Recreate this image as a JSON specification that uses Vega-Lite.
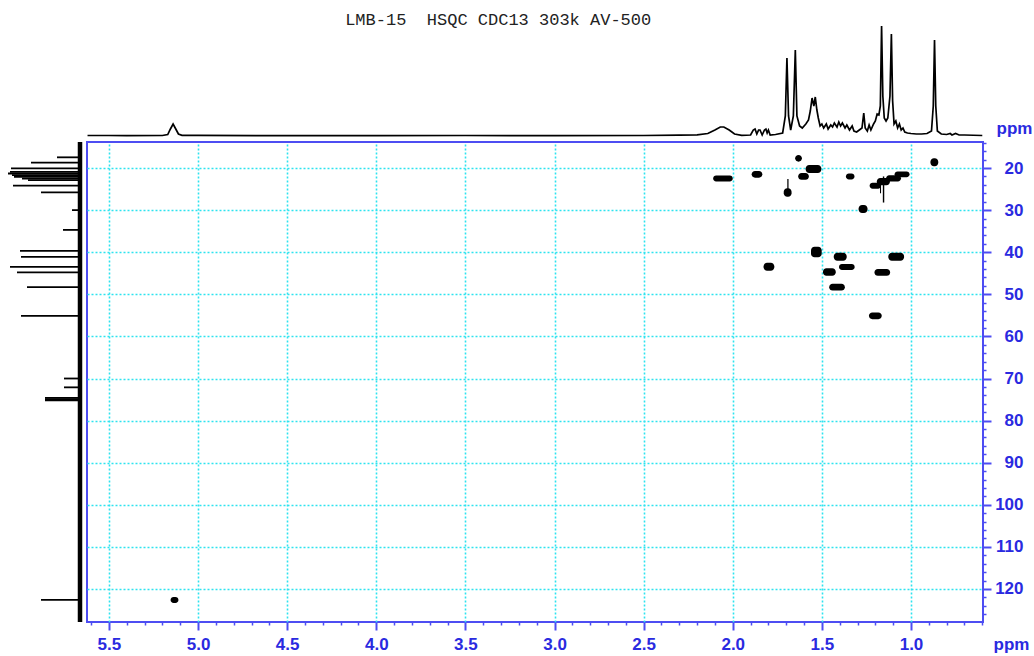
{
  "$schema": "https://vega.github.io/schema/vega-lite/v6.json",
  "background": "white",
  "padding": {"left": 7, "top": 11, "right": 0, "bottom": 0},
  "config": {"view": {"stroke": null}},
  "columns": 2,
  "spacing": {"row": 4, "column": 4},
  "bounds": "flush",
  "align": "each",
  "datasets": {
    "proton": [
      {"ppm": 5.62, "intensity": 0.5}, {"ppm": 5.5, "intensity": 0.5}, {"ppm": 5.4, "intensity": 0.3},
      {"ppm": 5.2, "intensity": 0.5}, {"ppm": 5.17, "intensity": 1.5}, {"ppm": 5.155, "intensity": 7},
      {"ppm": 5.14, "intensity": 12}, {"ppm": 5.128, "intensity": 8}, {"ppm": 5.11, "intensity": 2},
      {"ppm": 5.09, "intensity": 0.6}, {"ppm": 5.0, "intensity": 0.6}, {"ppm": 4.5, "intensity": 0.4},
      {"ppm": 4.0, "intensity": 0.4}, {"ppm": 3.5, "intensity": 0.5}, {"ppm": 3.0, "intensity": 0.4},
      {"ppm": 2.5, "intensity": 0.5}, {"ppm": 2.3, "intensity": 0.8}, {"ppm": 2.2, "intensity": 1.2},
      {"ppm": 2.14, "intensity": 2.5}, {"ppm": 2.1, "intensity": 6}, {"ppm": 2.07, "intensity": 9},
      {"ppm": 2.05, "intensity": 9}, {"ppm": 2.02, "intensity": 6}, {"ppm": 1.99, "intensity": 2},
      {"ppm": 1.95, "intensity": 0.6}, {"ppm": 1.9, "intensity": 1}, {"ppm": 1.885, "intensity": 6},
      {"ppm": 1.875, "intensity": 7}, {"ppm": 1.865, "intensity": 2}, {"ppm": 1.855, "intensity": 6},
      {"ppm": 1.847, "intensity": 6}, {"ppm": 1.835, "intensity": 1}, {"ppm": 1.822, "intensity": 6},
      {"ppm": 1.814, "intensity": 7}, {"ppm": 1.807, "intensity": 3}, {"ppm": 1.8, "intensity": 6},
      {"ppm": 1.79, "intensity": 1}, {"ppm": 1.76, "intensity": 1.5}, {"ppm": 1.72, "intensity": 3},
      {"ppm": 1.705, "intensity": 20}, {"ppm": 1.696, "intensity": 78}, {"ppm": 1.687, "intensity": 20},
      {"ppm": 1.675, "intensity": 6}, {"ppm": 1.66, "intensity": 20}, {"ppm": 1.649, "intensity": 86},
      {"ppm": 1.64, "intensity": 20}, {"ppm": 1.625, "intensity": 10}, {"ppm": 1.61, "intensity": 8},
      {"ppm": 1.59, "intensity": 12}, {"ppm": 1.575, "intensity": 16}, {"ppm": 1.565, "intensity": 25},
      {"ppm": 1.555, "intensity": 38}, {"ppm": 1.545, "intensity": 30}, {"ppm": 1.537, "intensity": 39},
      {"ppm": 1.528, "intensity": 26}, {"ppm": 1.52, "intensity": 18}, {"ppm": 1.51, "intensity": 10},
      {"ppm": 1.5, "intensity": 12}, {"ppm": 1.49, "intensity": 8}, {"ppm": 1.475, "intensity": 12},
      {"ppm": 1.465, "intensity": 7}, {"ppm": 1.45, "intensity": 11}, {"ppm": 1.44, "intensity": 9},
      {"ppm": 1.43, "intensity": 13}, {"ppm": 1.415, "intensity": 9}, {"ppm": 1.405, "intensity": 14},
      {"ppm": 1.395, "intensity": 10}, {"ppm": 1.385, "intensity": 13}, {"ppm": 1.37, "intensity": 8},
      {"ppm": 1.36, "intensity": 11}, {"ppm": 1.345, "intensity": 6}, {"ppm": 1.33, "intensity": 10},
      {"ppm": 1.32, "intensity": 5}, {"ppm": 1.305, "intensity": 4}, {"ppm": 1.29, "intensity": 6},
      {"ppm": 1.275, "intensity": 8}, {"ppm": 1.265, "intensity": 23}, {"ppm": 1.257, "intensity": 8},
      {"ppm": 1.245, "intensity": 5}, {"ppm": 1.235, "intensity": 11}, {"ppm": 1.225, "intensity": 6},
      {"ppm": 1.21, "intensity": 12}, {"ppm": 1.2, "intensity": 15}, {"ppm": 1.19, "intensity": 22},
      {"ppm": 1.18, "intensity": 21}, {"ppm": 1.172, "intensity": 30}, {"ppm": 1.165, "intensity": 110},
      {"ppm": 1.158, "intensity": 40}, {"ppm": 1.15, "intensity": 18}, {"ppm": 1.14, "intensity": 15},
      {"ppm": 1.13, "intensity": 18}, {"ppm": 1.118, "intensity": 40}, {"ppm": 1.11, "intensity": 102},
      {"ppm": 1.103, "intensity": 35}, {"ppm": 1.095, "intensity": 12}, {"ppm": 1.085, "intensity": 15},
      {"ppm": 1.075, "intensity": 8}, {"ppm": 1.065, "intensity": 12}, {"ppm": 1.055, "intensity": 6},
      {"ppm": 1.045, "intensity": 8}, {"ppm": 1.035, "intensity": 4}, {"ppm": 1.02, "intensity": 3},
      {"ppm": 1.0, "intensity": 2.5}, {"ppm": 0.97, "intensity": 2}, {"ppm": 0.94, "intensity": 2},
      {"ppm": 0.91, "intensity": 2.5}, {"ppm": 0.885, "intensity": 5}, {"ppm": 0.875, "intensity": 30},
      {"ppm": 0.868, "intensity": 96}, {"ppm": 0.861, "intensity": 30}, {"ppm": 0.852, "intensity": 5},
      {"ppm": 0.83, "intensity": 2}, {"ppm": 0.8, "intensity": 1.5}, {"ppm": 0.78, "intensity": 2.5},
      {"ppm": 0.77, "intensity": 1}, {"ppm": 0.75, "intensity": 2.5}, {"ppm": 0.73, "intensity": 1},
      {"ppm": 0.7, "intensity": 1}, {"ppm": 0.6, "intensity": 0.5}
    ],
    "carbon": [
      {"ppm": 17.46, "intensity": 23}, {"ppm": 18.74, "intensity": 49}, {"ppm": 20.07, "intensity": 69},
      {"ppm": 20.9, "intensity": 70}, {"ppm": 21.3, "intensity": 72}, {"ppm": 21.7, "intensity": 68},
      {"ppm": 22.1, "intensity": 66}, {"ppm": 22.5, "intensity": 58}, {"ppm": 22.9, "intensity": 52},
      {"ppm": 24.2, "intensity": 67}, {"ppm": 25.8, "intensity": 39}, {"ppm": 30.0, "intensity": 8},
      {"ppm": 34.7, "intensity": 17}, {"ppm": 39.7, "intensity": 60}, {"ppm": 41.1, "intensity": 59},
      {"ppm": 43.5, "intensity": 70}, {"ppm": 44.8, "intensity": 63}, {"ppm": 48.3, "intensity": 53},
      {"ppm": 55.1, "intensity": 59}, {"ppm": 70.0, "intensity": 16}, {"ppm": 72.1, "intensity": 16},
      {"ppm": 74.6, "intensity": 35}, {"ppm": 74.9, "intensity": 35}, {"ppm": 75.2, "intensity": 35},
      {"ppm": 122.6, "intensity": 39}
    ],
    "peaks": [
      {"h1": 1.612, "h2": 1.65, "c1": 16.9, "c2": 18.5},
      {"h1": 1.503, "h2": 1.591, "c1": 19.3, "c2": 21.2},
      {"h1": 1.834, "h2": 1.894, "c1": 20.7, "c2": 22.3},
      {"h1": 2.0, "h2": 2.11, "c1": 21.8, "c2": 23.2},
      {"h1": 1.573, "h2": 1.633, "c1": 21.2, "c2": 22.8},
      {"h1": 1.67, "h2": 1.714, "c1": 24.8, "c2": 26.8},
      {"h1": 1.317, "h2": 1.365, "c1": 21.3, "c2": 22.7},
      {"h1": 1.008, "h2": 1.092, "c1": 20.8, "c2": 22.2},
      {"h1": 1.056, "h2": 1.14, "c1": 21.7, "c2": 23.2},
      {"h1": 1.118, "h2": 1.192, "c1": 22.4, "c2": 24.1},
      {"h1": 1.168, "h2": 1.232, "c1": 23.5, "c2": 24.9},
      {"h1": 1.244, "h2": 1.294, "c1": 28.8, "c2": 30.7},
      {"h1": 1.501, "h2": 1.561, "c1": 38.7, "c2": 41.2},
      {"h1": 1.361, "h2": 1.433, "c1": 40.1, "c2": 42.0},
      {"h1": 1.039, "h2": 1.127, "c1": 40.1, "c2": 42.0},
      {"h1": 1.767, "h2": 1.827, "c1": 42.5, "c2": 44.4},
      {"h1": 1.316, "h2": 1.404, "c1": 42.8, "c2": 44.2},
      {"h1": 1.422, "h2": 1.494, "c1": 43.8, "c2": 45.6},
      {"h1": 1.117, "h2": 1.205, "c1": 44.0, "c2": 45.6},
      {"h1": 1.371, "h2": 1.459, "c1": 47.5, "c2": 49.1},
      {"h1": 1.164, "h2": 1.236, "c1": 54.3, "c2": 55.9},
      {"h1": 0.847, "h2": 0.891, "c1": 17.7, "c2": 19.6},
      {"h1": 5.11, "h2": 5.154, "c1": 121.9, "c2": 123.3}
    ],
    "streaks": [
      {"h1": 1.687, "h2": 1.694, "c1": 22.6, "c2": 25.5},
      {"h1": 1.15, "h2": 1.158, "c1": 22.0, "c2": 28.2},
      {"h1": 1.168, "h2": 1.174, "c1": 22.5, "c2": 26.0}
    ]
  },
  "concat": [
    {
      "width": 76, "height": 116,
      "data": {"values": [{"a": 1}]},
      "mark": {"type": "text", "text": ""},
      "encoding": {}
    },
    {
      "width": 896, "height": 116,
      "layer": [
        {
          "data": {"name": "proton"},
          "mark": {"type": "line", "color": "black", "strokeWidth": 1.7},
          "encoding": {
            "x": {"field": "ppm", "type": "quantitative",
                  "scale": {"domain": [0.596, 5.623], "reverse": true, "nice": false, "zero": false}, "axis": null},
            "y": {"field": "intensity", "type": "quantitative",
                  "scale": {"domain": [-2, 114], "nice": false, "zero": false}, "axis": null}
          }
        },
        {
          "data": {"values": [{"label": "LMB-15\u00a0\u00a0HSQC CDC13 303k AV-500", "ppm": 3.316, "intensity": 116}]},
          "mark": {"type": "text", "font": "Liberation Mono", "fontSize": 17, "color": "#222222",
                   "align": "center", "baseline": "middle"},
          "encoding": {
            "x": {"field": "ppm", "type": "quantitative"},
            "y": {"field": "intensity", "type": "quantitative"},
            "text": {"field": "label"}
          }
        }
      ]
    },
    {
      "width": 76, "height": 480,
      "layer": [
        {
          "data": {"name": "carbon"},
          "mark": {"type": "rule", "color": "black", "strokeWidth": 1.8},
          "encoding": {
            "y": {"field": "ppm", "type": "quantitative",
                  "scale": {"domain": [13.82, 127.84], "reverse": true, "nice": false, "zero": false}, "axis": null},
            "x": {"field": "intensity", "type": "quantitative",
                  "scale": {"domain": [-3, 73], "reverse": true, "nice": false, "zero": false}, "axis": null},
            "x2": {"datum": 0}
          }
        },
        {
          "data": {"values": [{"b": 0}]},
          "mark": {"type": "rule", "color": "black", "strokeWidth": 4.5},
          "encoding": {"x": {"field": "b", "type": "quantitative"}}
        }
      ]
    },
    {
      "width": 896, "height": 480,
      "view": {"stroke": "#4d4df2", "strokeWidth": 2},
      "resolve": {"axis": {"x": "independent", "y": "independent"}},
      "layer": [
        {
          "data": {"name": "peaks"},
          "mark": {"type": "rect", "color": "black", "cornerRadius": 3.5},
          "encoding": {
            "x": {"field": "h1", "type": "quantitative",
                  "scale": {"domain": [0.596, 5.623], "reverse": true, "nice": false, "zero": false},
                  "axis": {"orient": "bottom", "values": [1, 1.5, 2, 2.5, 3, 3.5, 4, 4.5, 5, 5.5], "format": ".1f",
                           "domain": false, "grid": true, "gridColor": "#2ee3ef", "gridDash": [2, 2], "gridWidth": 1.6,
                           "tickColor": "#4d4df2", "tickSize": 8, "tickWidth": 2,
                           "labelFont": "Liberation Sans", "labelFontSize": 17, "labelFontWeight": "bold",
                           "labelColor": "#2a2ae0", "labelPadding": 6,
                           "title": "ppm", "titleFont": "Liberation Sans", "titleFontSize": 17, "titleFontWeight": "bold",
                           "titleColor": "#2a2ae0", "titleAngle": 0, "titleX": 924, "titleY": 22,
                           "titleAlign": "center", "titleBaseline": "middle"}},
            "x2": {"field": "h2"},
            "y": {"field": "c1", "type": "quantitative",
                  "scale": {"domain": [13.82, 127.84], "reverse": true, "nice": false, "zero": false},
                  "axis": {"orient": "right", "values": [20, 30, 40, 50, 60, 70, 80, 90, 100, 110, 120],
                           "domain": false, "grid": true, "gridColor": "#2ee3ef", "gridDash": [2, 2], "gridWidth": 1.6,
                           "tickColor": "#4d4df2", "tickSize": 8, "tickWidth": 2,
                           "labelFont": "Liberation Sans", "labelFontSize": 17, "labelFontWeight": "bold",
                           "labelColor": "#2a2ae0", "labelAlign": "right", "labelPadding": 32,
                           "title": "ppm", "titleFont": "Liberation Sans", "titleFontSize": 17, "titleFontWeight": "bold",
                           "titleColor": "#2a2ae0", "titleAngle": 0, "titleX": 31, "titleY": -14,
                           "titleAlign": "center", "titleBaseline": "middle"}},
            "y2": {"field": "c2"}
          }
        },
        {
          "data": {"name": "streaks"},
          "mark": {"type": "rect", "color": "black"},
          "encoding": {
            "x": {"field": "h1", "type": "quantitative",
                  "axis": {"orient": "bottom",
                           "values": [0.6,0.7,0.8,0.9,1.1,1.2,1.3,1.4,1.6,1.7,1.8,1.9,2.1,2.2,2.3,2.4,2.6,2.7,2.8,2.9,3.1,3.2,3.3,3.4,3.6,3.7,3.8,3.9,4.1,4.2,4.3,4.4,4.6,4.7,4.8,4.9,5.1,5.2,5.3,5.4,5.6],
                           "labels": false, "grid": false, "domain": false, "tickColor": "#4d4df2",
                           "tickSize": 3, "tickWidth": 1.5, "title": null}},
            "x2": {"field": "h2"},
            "y": {"field": "c1", "type": "quantitative",
                  "axis": {"orient": "right",
                           "values": [14,16,18,22,24,26,28,32,34,36,38,42,44,46,48,52,54,56,58,62,64,66,68,72,74,76,78,82,84,86,88,92,94,96,98,102,104,106,108,112,114,116,118,122,124,126],
                           "labels": false, "grid": false, "domain": false, "tickColor": "#4d4df2",
                           "tickSize": 3, "tickWidth": 1.5, "title": null}},
            "y2": {"field": "c2"}
          }
        }
      ]
    }
  ]
}
